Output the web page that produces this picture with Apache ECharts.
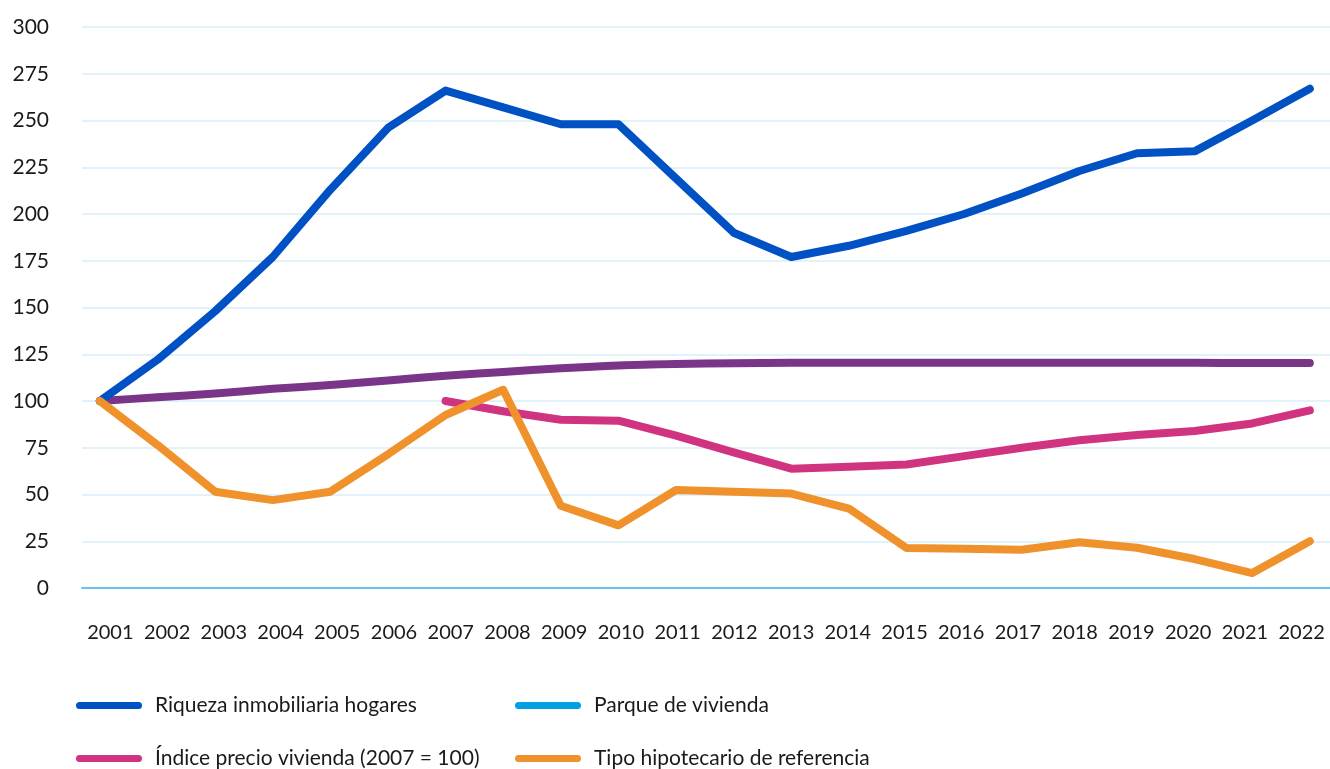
<!DOCTYPE html>
<html>
<head>
<meta charset="utf-8">
<script src="https://cdn.jsdelivr.net/npm/echarts@6/dist/echarts.min.js"></script>
<style>
  html, body { margin: 0; padding: 0; background: #fff; }
  #chart { width: 1330px; height: 769px; }
</style>
</head>
<body>
<div id="chart"></div>
<script>
var years = [2001, 2002, 2003, 2004, 2005, 2006, 2007, 2008, 2009, 2010, 2011,
             2012, 2013, 2014, 2015, 2016, 2017, 2018, 2019, 2020, 2021, 2022];
var yearLabels = years.map(String);

var riqueza = [100, 122, 148, 177, 213, 246, 266, 257, 248, 248, 219,
               190, 177, 183, 191, 200, 211, 223, 232.5, 233.5, 250, 267];
var parque = [100, 102, 104, 106.5, 108.5, 111, 113.5, 115.5, 117.5, 119, 119.8,
              120.2, 120.4, 120.5, 120.5, 120.5, 120.5, 120.5, 120.4, 120.4, 120.3, 120.3];
var precio = [null, null, null, null, null, null, 100, 94.5, 90, 89.5, 81.5,
              72.5, 63.8, 64.8, 66, 70.5, 75, 79, 81.8, 84, 88, 95];
var tipo = [100, 76.5, 51.5, 47, 51.5, 71.5, 92.5, 106, 44, 33.5, 52.4,
            51.5, 50.5, 42.5, 21.4, 21, 20.5, 24.5, 21.5, 15.5, 8, 25];

var seriesNames = ['Riqueza inmobiliaria hogares', 'Parque de vivienda',
                   'Índice precio vivienda (2007 = 100)', 'Tipo hipotecario de referencia'];
var lineColors = ['#0051c3', '#7a3589', '#d0337f', '#f0922b'];
var legendColors = ['#0051c3', '#00a0e3', '#d0337f', '#f0922b'];

function pairs(values) {
    var out = [];
    for (var i = 0; i < years.length; i++) {
        if (values[i] !== null) out.push([years[i], values[i]]);
    }
    return out;
}

var font = 'Lato, "Open Sans", sans-serif';
var pill = 'path://M3.5,0 L62.5,0 A3.5,3.5 0 0 1 62.5,7 L3.5,7 A3.5,3.5 0 0 1 3.5,0 Z';

function legendFor(i, left, top) {
    return {
        left: left,
        top: top,
        padding: 0,
        icon: pill,
        itemWidth: 66,
        itemHeight: 7,
        itemGap: 0,
        itemTextGap: 14,
        textStyle: { fontFamily: font, fontSize: 21, color: '#1a1a1a', padding: [0, 0, 0, 8] },
        data: [{ name: seriesNames[i], itemStyle: { color: legendColors[i] } }],
        selectedMode: false
    };
}

function lineSeries(i, values, smooth) {
    return {
        name: seriesNames[i],
        type: 'line',
        xAxisIndex: 1,
        data: pairs(values),
        symbol: 'none',
        smooth: smooth,
        color: lineColors[i],
        lineStyle: { width: 8, color: lineColors[i], cap: 'round', join: 'round' }
    };
}

var chart = echarts.init(document.getElementById('chart'));
var option = {
    animation: false,
    backgroundColor: '#fff',
    grid: { left: 82, right: 0, top: 27, bottom: 181 },
    legend: [
        legendFor(0, 76, 695),
        legendFor(1, 515, 695),
        legendFor(2, 76, 748),
        legendFor(3, 515, 748)
    ],
    xAxis: [
        {
            type: 'category',
            data: yearLabels,
            boundaryGap: true,
            axisLine: { show: true, lineStyle: { color: '#62c6f1', width: 2 } },
            axisTick: { show: false },
            axisLabel: { interval: 0, margin: 35, fontFamily: font, fontSize: 20, color: '#1a1a1a' },
            splitLine: { show: false }
        },
        {
            type: 'value',
            min: 2000.69,
            max: 2022.35,
            show: false,
            splitLine: { show: false }
        }
    ],
    yAxis: {
        type: 'value',
        min: 0,
        max: 300,
        interval: 25,
        axisLine: { show: false },
        axisTick: { show: false },
        axisLabel: { margin: 33, fontFamily: font, fontSize: 21, color: '#1a1a1a' },
        splitLine: { lineStyle: { color: '#e2f2fb', width: 2 } }
    },
    series: [
        lineSeries(1, parque, 0.3),
        lineSeries(0, riqueza, false),
        lineSeries(2, precio, false),
        lineSeries(3, tipo, false)
    ]
};
chart.setOption(option);
window.onresize = chart.resize;
</script>
</body>
</html>
